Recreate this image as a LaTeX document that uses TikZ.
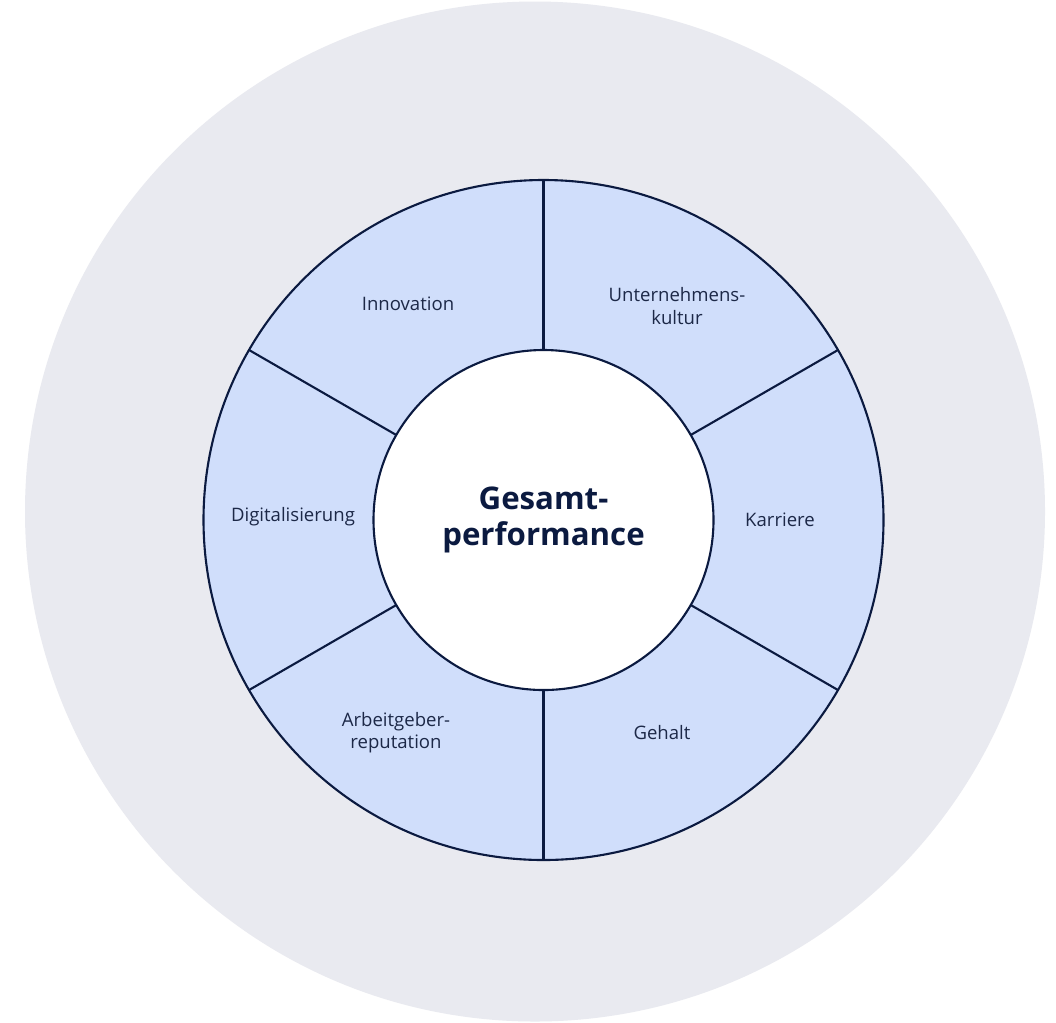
\documentclass[tikz,border=0pt]{standalone}
\usepackage{fontspec}
\setmainfont{Open Sans}
\usetikzlibrary{calc}
\definecolor{bggray}{HTML}{E9EAF0}
\definecolor{ringblue}{HTML}{D0DEFB}
\definecolor{navy}{HTML}{0B1A40}
\definecolor{txt}{HTML}{1C2847}
\begin{document}
\begin{tikzpicture}[x=0.025cm,y=-0.025cm,
  seglabel/.style={align=center,text=txt,font=\fontsize{13.2}{15.8}\selectfont},
  ringline/.style={draw=navy,line width=1.5pt}]
\useasboundingbox (0,0) rectangle (1056,1022);
\fill[white] (0,0) rectangle (1056,1022);
\coordinate (C) at (543.5,520);
\fill[bggray] (535,511.5) circle (510);
\fill[ringblue] (C) circle (340);
\draw[ringline] (C) circle (340);
\foreach \a in {90,30,330,270,210,150} {
  \draw[ringline] ($(C)+(\a:170)$) -- ($(C)+(\a:340)$);
}
\node[circle,minimum size=340*0.025cm,inner sep=0pt,fill=white,draw=navy,line width=1.5pt] (center) at (C) {};
\node[align=center,text=navy,font=\fontsize{22.2}{25}\selectfont\bfseries] (title) at (C) {Gesamt-\\performance};
\node[seglabel] (innov) at (408,304) {Innovation};
\node[seglabel] (kultur) at (677,306) {Unternehmens-\\kultur};
\node[seglabel] (karr) at (780,520) {Karriere};
\node[seglabel] (gehalt) at (662,733) {Gehalt};
\node[seglabel] (arbeit) at (396,733) {Arbeitgeber-\\reputation};
\node[seglabel] (digi) at (293,517) {Digitalisierung};
\end{tikzpicture}
\end{document}
